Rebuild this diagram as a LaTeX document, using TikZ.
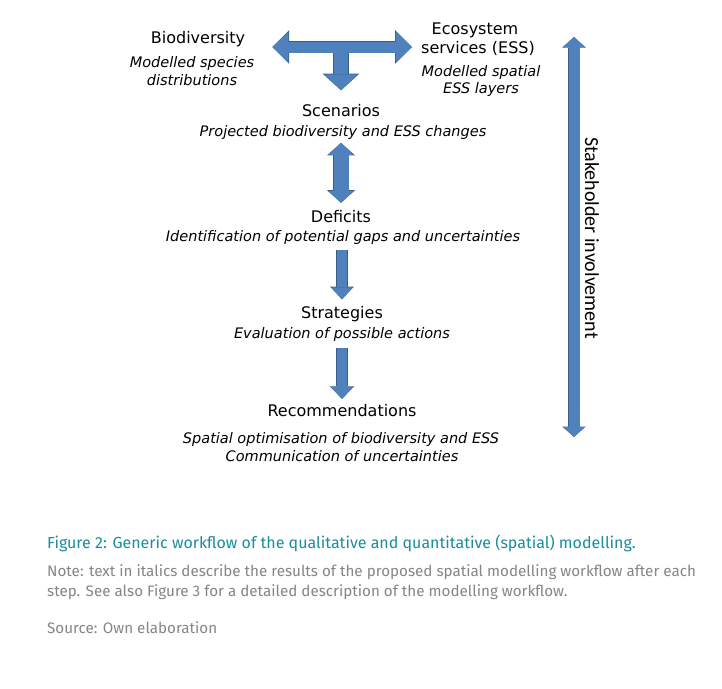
\documentclass[tikz,border=0pt]{standalone}
\usepackage{fontspec}
\setmainfont{DejaVu Sans}
\newfontfamily\stakefont{Carlito}
\newfontfamily\capfont{Fira Sans}
\usetikzlibrary{arrows.meta}
\definecolor{arrowfill}{HTML}{4F81BD}
\definecolor{arrowedge}{HTML}{385D8A}
\definecolor{captionteal}{HTML}{1A8C9A}
\definecolor{notegray}{HTML}{858585}
\tikzset{
	title/.style={anchor=base, inner sep=0pt, font=\fontsize{16}{19}\selectfont},
	desc/.style={anchor=base, inner sep=0pt, font=\fontsize{14.5}{17}\selectfont\itshape},
	capline/.style={anchor=base west, inner sep=0pt, text=notegray, font=\capfont\fontsize{15.2}{18}\selectfont},
	edge layer/.style={draw=arrowedge, >={Triangle[line width=0pt, scale width=1.12, scale length=1.05]}, /utils/exec={\def\extra{1.5pt}}},
	fill layer/.style={draw=arrowfill, >={Triangle[line width=0pt]}, /utils/exec={\def\extra{0pt}}},
	shaft/.style={line width=#1+\extra},
}
\begin{document}
\begin{tikzpicture}[x=1pt, y=-1pt]
				\useasboundingbox (0,0) rectangle (722,688);
				
				%sources
				\node[title] (bio) at (198,43) {Biodiversity};
				\node[desc] (biod1) at (192,67) {Modelled species};
				\node[desc] (biod2) at (192,85) {distributions};
				\node[title] (ess1) at (475,34) {Ecosystem};
				\node[title] (ess2) at (478,53.3) {services (ESS)};
				\node[desc] (essd1) at (481,76.7) {Modelled spatial};
				\node[desc] (essd2) at (481,93) {ESS layers};
				
				%steps
				\node[title] (scen) at (341,116.7) {Scenarios};
				\node[desc] (scend) at (343,136) {Projected biodiversity and ESS changes};
				\node[title] (def) at (341,222.7) {Deficits};
				\node[desc] (defd) at (343,241.7) {Identification of potential gaps and uncertainties};
				\node[title] (strat) at (342,318.3) {Strategies};
				\node[desc] (stratd) at (342,338.3) {Evaluation of possible actions};
				\node[title] (rec) at (342,416.7) {Recommendations};
				\node[desc] (recd1) at (341,443.3) {Spatial optimisation of biodiversity and ESS};
				\node[desc] (recd2) at (342,461.7) {Communication of uncertainties};
				
				\node[rotate=270, inner sep=0pt, font=\stakefont\fontsize{20}{24}\selectfont] (stake) at (592,238) {Stakeholder involvement};
				\coordinate (tee) at (341,47);
				\coordinate (shtop) at (574,37);
				\coordinate (shbot) at (574,437);
				
				%block arrows, outline first then fill
				\foreach \layer in {edge layer, fill layer}{
					\begin{scope}[\layer]
						\draw[shaft=11pt, -{>[width=30pt,length=16pt]}, shorten >=27pt] (tee) -- (tee -| bio.east);
						\draw[shaft=11pt, -{>[width=30pt,length=16pt]}, shorten >=9pt] (tee) -- (tee -| ess2.west);
						\draw[shaft=14pt, -{>[width=33pt,length=16pt]}, shorten >=14pt] (tee) -- (scen.north);
						\draw[shaft=15pt, {<[width=25pt,length=12pt]}-{>[width=25pt,length=12pt]}, shorten <=3.6pt, shorten >=7.5pt] (scend.south -| def.north) -- (def.north);
						\draw[shaft=10pt, -{>[width=21pt,length=12pt]}, shorten <=4.9pt, shorten >=6.6pt] (defd.south -| strat.north) -- (strat.north);
						\draw[shaft=10pt, -{>[width=22pt,length=12pt]}, shorten <=6.3pt, shorten >=5.5pt] (stratd.south -| rec.north) -- (rec.north);
						\draw[shaft=11pt, {<[width=21pt,length=10pt]}-{>[width=21pt,length=10pt]}] (shtop) -- (shbot);
					\end{scope}
				}
				
				%caption
				\node[capline, text=captionteal, font=\capfont\fontsize{16}{19}\selectfont] (fig) at (47,548) {Figure 2: Generic workflow of the qualitative and quantitative (spatial) modelling.};
				\node[capline] (note1) at (47,576.7) {Note: text in italics describe the results of the proposed spatial modelling workflow after each};
				\node[capline] (note2) at (47,596.7) {step. See also Figure 3 for a detailed description of the modelling workflow.};
				\node[capline] (src) at (47,633.3) {Source: Own elaboration};
\end{tikzpicture}
\end{document}
